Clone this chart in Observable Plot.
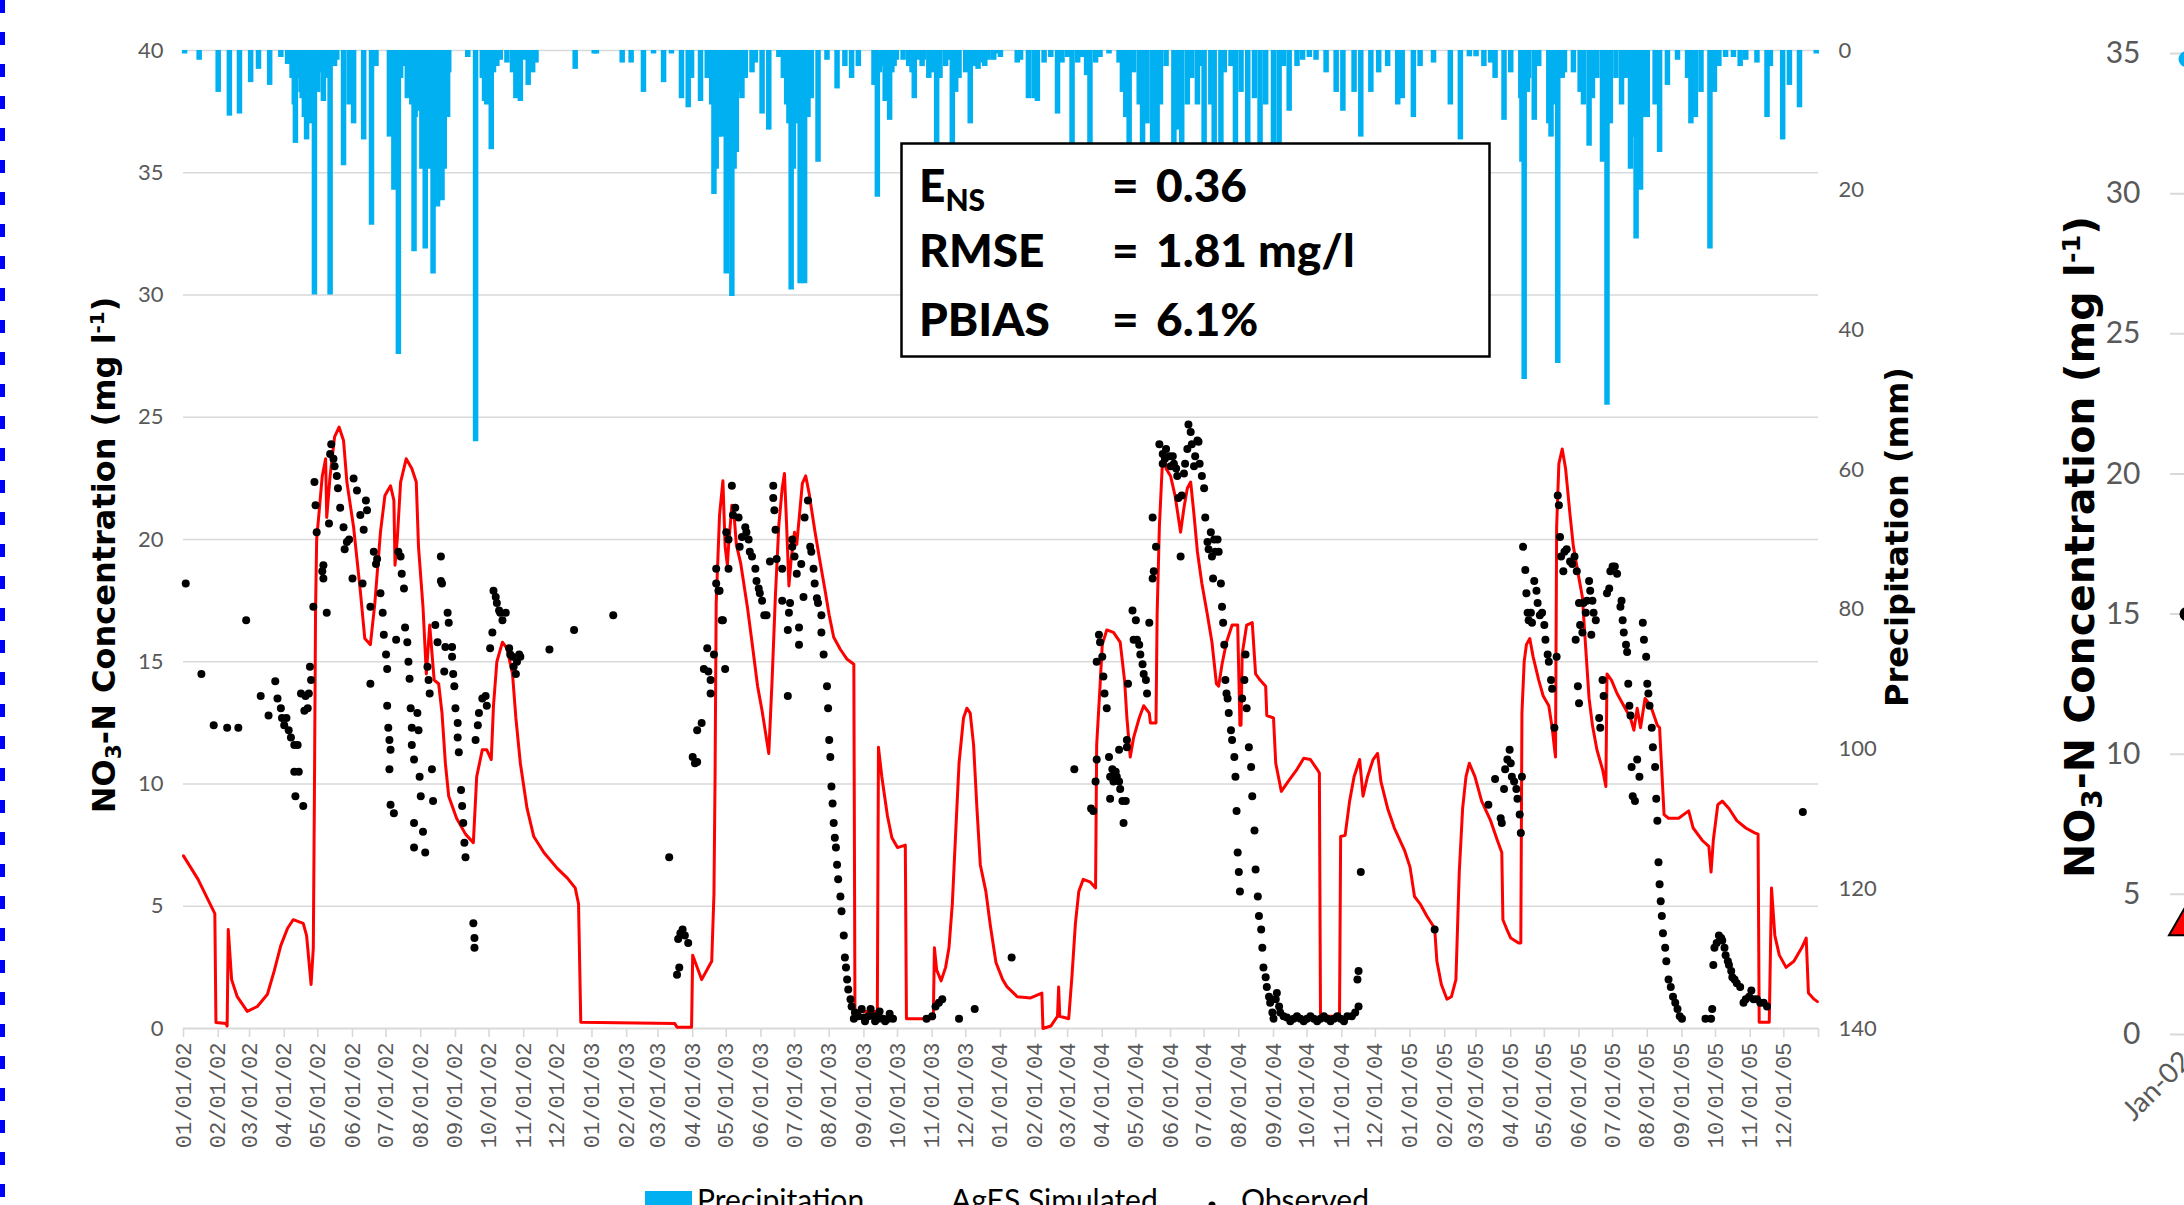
<!DOCTYPE html>
<html>
<head>
<meta charset="utf-8">
<script src="https://cdn.jsdelivr.net/npm/d3@7"></script>
<script src="https://cdn.jsdelivr.net/npm/@observablehq/plot@0.6"></script>
<style>
html, body { margin: 0; padding: 0; width: 2184px; height: 1205px; overflow: hidden; background: #fff; }
#wrap { position: relative; width: 2184px; height: 1205px; overflow: hidden; }
.layer { position: absolute; left: 0; top: 0; }
.vtitle { position: absolute; white-space: nowrap; font-family: "DejaVu Sans", sans-serif; font-weight: bold; color: #000; transform: translate(-50%, -50%) rotate(-90deg); }
.vtitle .sub { font-size: 68%; position: relative; top: 0.28em; }
.vtitle .sup { font-size: 62%; position: relative; top: -0.55em; }
.leg { position: absolute; font-family: Lato, sans-serif; font-size: 30px; color: #000; white-space: nowrap; }
</style>
</head>
<body>
<div id="wrap"></div>
<script>
// ---------------- DATA ----------------
const concTicks = [0, 5, 10, 15, 20, 25, 30, 35, 40];
const precipTicks = [0, 20, 40, 60, 80, 100, 120, 140];
const xStart = "2002-01-01";
const xEnd = "2006-01-01";
const xTickFormat = "%m/%d/%y";

const seriesNames = ["Precipitation", "AgES Simulated", "Observed"];
const statLabels = ["E", "RMSE", "PBIAS"];
const statValues = ["0.36", "1.81 mg/l", "6.1%"];

// AgES simulated NO3-N (mg/l) — vertices
const simulated = [
["2002-01-01",7.06],["2002-01-14",6.1],["2002-01-29",4.7],["2002-01-30",0.25],["2002-02-08",0.2],["2002-02-09",0.1],["2002-02-10",4.05],["2002-02-13",2.0],["2002-02-18",1.3],["2002-02-27",0.7],["2002-03-08",0.9],["2002-03-17",1.4],["2002-03-23",2.35],["2002-03-29",3.4],["2002-04-04",4.1],["2002-04-09",4.45],["2002-04-18",4.3],["2002-04-21",3.8],["2002-04-25",1.8],["2002-04-27",3.3],["2002-04-28",9.7],["2002-04-29",17.1],["2002-04-30",20.0],["2002-05-05",22.6],["2002-05-08",23.3],["2002-05-09",20.9],["2002-05-12",22.6],["2002-05-16",24.2],["2002-05-20",24.6],["2002-05-24",24.05],["2002-05-27",22.35],["2002-06-02",20.5],["2002-06-08",17.9],["2002-06-12",15.95],["2002-06-17",15.7],["2002-06-21",17.4],["2002-06-26",20.3],["2002-06-30",21.8],["2002-07-05",22.2],["2002-07-08",21.6],["2002-07-09",18.95],["2002-07-11",20.0],["2002-07-14",22.35],["2002-07-19",23.3],["2002-07-24",22.9],["2002-07-28",22.35],["2002-07-30",19.7],["2002-08-03",17.25],["2002-08-06",14.5],["2002-08-09",16.5],["2002-08-13",14.25],["2002-08-17",14.1],["2002-08-20",12.9],["2002-08-23",10.85],["2002-08-26",9.5],["2002-09-02",8.6],["2002-09-10",7.95],["2002-09-17",7.6],["2002-09-20",10.3],["2002-09-25",11.4],["2002-09-29",11.4],["2002-10-03",11.0],["2002-10-05",13.2],["2002-10-08",15.0],["2002-10-13",15.8],["2002-10-17",15.55],["2002-10-22",14.5],["2002-10-25",12.7],["2002-10-29",10.85],["2002-11-04",9.0],["2002-11-10",7.85],["2002-11-19",7.2],["2002-12-01",6.55],["2002-12-10",6.15],["2002-12-17",5.75],["2002-12-20",5.1],["2002-12-22",0.26],
["2003-03-16",0.2],["2003-03-18",0.05],["2003-03-31",0.05],["2003-04-01",3.0],["2003-04-09",2.0],["2003-04-18",2.75],["2003-04-20",5.5],["2003-04-21",10.3],["2003-04-22",17.4],["2003-04-25",21.0],["2003-04-28",22.4],["2003-04-30",19.7],["2003-05-02",18.95],["2003-05-03",19.7],["2003-05-06",21.4],["2003-05-08",21.0],["2003-05-10",19.8],["2003-05-14",19.0],["2003-05-20",17.2],["2003-05-24",15.8],["2003-05-29",14.0],["2003-06-02",13.0],["2003-06-08",11.25],["2003-06-11",14.3],["2003-06-14",17.8],["2003-06-17",20.6],["2003-06-20",22.1],["2003-06-22",22.7],["2003-06-24",20.5],["2003-06-26",18.1],["2003-06-28",19.2],["2003-07-01",20.3],["2003-07-03",19.8],["2003-07-05",20.8],["2003-07-08",22.3],["2003-07-11",22.6],["2003-07-14",21.9],["2003-07-19",20.4],["2003-07-23",19.3],["2003-07-28",18.0],["2003-08-01",16.9],["2003-08-05",16.0],["2003-08-11",15.5],["2003-08-17",15.1],["2003-08-23",14.9],["2003-08-24",0.7],["2003-09-13",0.7],["2003-09-14",11.5],["2003-09-17",10.3],["2003-09-22",8.7],["2003-09-26",7.8],["2003-10-01",7.4],["2003-10-08",7.5],["2003-10-09",0.4],["2003-11-02",0.4],["2003-11-03",3.3],["2003-11-05",2.4],["2003-11-09",1.95],["2003-11-13",2.5],["2003-11-16",3.3],["2003-11-19",5.1],["2003-11-22",8.0],["2003-11-25",10.85],["2003-11-29",12.7],["2003-12-02",13.1],["2003-12-05",12.9],["2003-12-08",11.6],["2003-12-11",9.0],["2003-12-14",6.7],["2003-12-19",5.6],["2003-12-23",4.2],["2003-12-28",2.7],
["2004-01-03",2.0],["2004-01-07",1.7],["2004-01-16",1.3],["2004-01-28",1.25],["2004-02-07",1.45],["2004-02-08",0.0],["2004-02-15",0.1],["2004-02-21",0.5],["2004-02-22",1.7],["2004-02-23",0.5],["2004-03-02",0.4],["2004-03-05",2.2],["2004-03-08",4.3],["2004-03-11",5.6],["2004-03-15",6.1],["2004-03-21",6.0],["2004-03-26",5.75],["2004-03-27",11.6],["2004-03-30",14.0],["2004-04-01",15.7],["2004-04-05",16.3],["2004-04-11",16.2],["2004-04-17",15.8],["2004-04-21",14.2],["2004-04-23",12.7],["2004-04-26",11.1],["2004-04-29",11.9],["2004-05-04",12.7],["2004-05-08",13.2],["2004-05-13",12.9],["2004-05-14",12.5],["2004-05-19",12.5],["2004-05-20",16.9],["2004-05-22",20.5],["2004-05-25",23.4],["2004-05-26",23.7],["2004-05-28",22.9],["2004-06-01",22.6],["2004-06-05",21.8],["2004-06-10",20.3],["2004-06-13",21.3],["2004-06-16",22.1],["2004-06-19",22.35],["2004-06-22",21.0],["2004-06-25",19.5],["2004-06-29",18.2],["2004-07-04",16.9],["2004-07-08",15.8],["2004-07-12",14.1],["2004-07-14",14.0],["2004-07-17",14.9],["2004-07-21",15.8],["2004-07-26",16.5],["2004-07-31",16.5],["2004-08-02",12.4],["2004-08-03",12.4],["2004-08-04",15.3],["2004-08-08",16.5],["2004-08-13",16.6],["2004-08-16",14.5],["2004-08-20",14.25],["2004-08-25",14.0],["2004-08-26",12.8],["2004-09-01",12.7],["2004-09-03",10.85],["2004-09-08",9.7],["2004-09-14",10.1],["2004-09-22",10.6],["2004-09-28",11.05],["2004-10-04",11.0],["2004-10-10",10.6],["2004-10-12",10.45],["2004-10-13",0.5],["2004-10-30",0.5],["2004-10-31",7.85],["2004-11-04",7.9],["2004-11-08",9.3],["2004-11-12",10.3],["2004-11-17",11.0],["2004-11-20",9.5],["2004-11-24",10.3],["2004-11-29",11.0],["2004-12-03",11.25],["2004-12-06",10.1],["2004-12-12",9.0],["2004-12-18",8.2],["2004-12-27",7.3],
["2005-01-01",6.6],["2005-01-05",5.4],["2005-01-10",5.1],["2005-01-16",4.6],["2005-01-23",4.1],["2005-01-25",2.75],["2005-01-29",1.8],["2005-02-03",1.2],["2005-02-07",1.3],["2005-02-11",2.0],["2005-02-14",6.4],["2005-02-17",9.0],["2005-02-20",10.3],["2005-02-23",10.85],["2005-02-28",10.3],["2005-03-06",9.3],["2005-03-14",8.5],["2005-03-20",7.7],["2005-03-24",7.2],["2005-03-25",4.45],["2005-03-29",4.0],["2005-04-01",3.7],["2005-04-08",3.5],["2005-04-10",3.5],["2005-04-11",12.9],["2005-04-13",15.0],["2005-04-15",15.7],["2005-04-18",15.95],["2005-04-21",15.2],["2005-04-26",14.25],["2005-04-30",13.6],["2005-05-05",13.2],["2005-05-08",12.3],["2005-05-11",11.1],["2005-05-12",20.5],["2005-05-14",23.1],["2005-05-17",23.7],["2005-05-20",22.9],["2005-05-24",21.0],["2005-05-27",19.7],["2005-06-01",18.4],["2005-06-04",17.65],["2005-06-07",15.55],["2005-06-10",13.5],["2005-06-13",12.4],["2005-06-17",11.4],["2005-06-22",10.6],["2005-06-25",9.9],["2005-06-26",14.5],["2005-06-30",14.25],["2005-07-05",13.7],["2005-07-11",13.2],["2005-07-17",12.7],["2005-07-20",12.2],["2005-07-23",13.1],["2005-07-26",12.3],["2005-07-30",13.5],["2005-08-04",13.2],["2005-08-10",12.4],["2005-08-12",12.3],["2005-08-16",8.75],["2005-08-20",8.6],["2005-08-29",8.6],["2005-09-07",8.9],["2005-09-11",8.2],["2005-09-19",7.7],["2005-09-25",7.45],["2005-09-27",6.4],["2005-09-29",7.7],["2005-10-03",9.15],["2005-10-07",9.3],["2005-10-13",9.0],["2005-10-20",8.5],["2005-10-28",8.2],["2005-11-05",8.0],["2005-11-08",7.95],["2005-11-09",0.26],["2005-11-18",0.26],["2005-11-20",5.75],["2005-11-23",3.8],["2005-11-27",3.0],["2005-12-03",2.5],["2005-12-10",2.75],["2005-12-17",3.3],["2005-12-21",3.7],["2005-12-23",1.45],["2005-12-28",1.2],["2005-12-31",1.1]
];

// Observed NO3-N (mg/l): [day of year, value] per year
const obs2002 = [[3,18.2],[17,14.5],[28,12.4],[40,12.3],[50,12.3],[57,16.7],[70,13.6],[77,12.8],[83,14.2],[85,13.5],[88,13.1],[89,12.7],[91,12.4],[93,12.7],[95,12.2],[97,11.9],[100,11.6],[103,11.6],[100,10.5],[104,10.5],[101,9.5],[108,9.1],[106,13.7],[109,13.0],[110,13.6],[112,13.1],[113,13.7],[115,14.25],[114,14.8],[117,17.25],[118,22.35],[119,21.4],[120,20.3],[125,18.7],[126,18.4],[126,18.95],[129,17.0],[131,20.65],[132,23.5],[133,23.9],[135,23.3],[136,23.0],[138,22.6],[139,22.1],[141,21.3],[144,20.5],[145,19.6],[147,19.9],[149,20.0],[152,18.4],[153,22.5],[156,22.0],[159,21.0],[162,20.4],[161,18.2],[164,21.6],[165,21.2],[168,14.1],[168,17.25],[171,19.5],[173,19.0],[174,19.2],[177,17.8],[179,17.0],[180,16.1],[182,15.3],[183,14.7],[183,13.2],[184,12.3],[185,11.8],[186,11.4],[185,10.6],[186,9.15],[189,8.8],[191,15.9],[193,19.5],[195,19.3],[196,18.6],[198,18.0],[199,16.4],[201,15.8],[202,15.0],[203,14.3],[204,13.1],[205,12.3],[205,11.6],[207,11.0],[207,8.4],[207,7.4],[210,12.9],[211,12.2],[212,10.3],[213,9.5],[215,8.05],[217,7.2],[219,14.8],[220,14.25],[221,13.7],[223,10.6],[224,9.3],[226,16.5],[228,15.8],[231,19.3],[231,18.3],[232,18.2],[234,14.6],[235,15.6],[237,17.0],[238,16.6],[241,15.6],[241,15.2],[242,14.5],[243,14.0],[244,13.1],[246,12.5],[246,11.9],[247,11.3],[249,9.75],[250,9.1],[251,8.4],[252,7.6],[253,7.0],[260,4.3],[261,3.7],[261,3.3],[262,11.8],[264,12.4],[265,12.9],[268,13.5],[271,13.6],[272,13.2],[275,15.55],[277,16.2],[278,17.9],[280,17.65],[281,17.4],[283,17.1],[284,17.0],[286,16.7],[289,17.0],[292,15.55],[293,15.3],[295,15.2],[296,14.8],[298,14.5],[299,15.0],[301,15.3],[302,15.2],[328,15.5],[350,16.3]];
const obs2003 = [[20,16.9],[70,7.0],[77,2.2],[78,3.66],[79,2.5],[80,3.9],[82,4.05],[84,3.8],[87,3.5],[91,11.1],[93,10.85],[95,10.9],[95,12.2],[99,12.5],[101,14.7],[104,15.55],[105,14.6],[107,14.25],[107,13.7],[110,15.3],[112,18.2],[112,18.8],[114,17.9],[115,17.9],[117,16.7],[118,16.7],[120,14.7],[121,20.3],[123,20.0],[123,18.8],[126,22.2],[127,21.0],[129,21.3],[132,20.9],[133,19.7],[135,20.1],[138,20.5],[139,20.3],[141,20.0],[142,19.5],[144,19.3],[147,18.8],[148,18.3],[150,18.0],[151,17.8],[153,17.5],[155,16.9],[157,16.9],[160,19.1],[163,22.2],[163,21.7],[164,21.2],[165,20.4],[166,19.2],[171,18.8],[171,17.5],[176,13.6],[176,16.3],[177,17.0],[178,17.4],[180,19.7],[180,20.0],[182,19.3],[184,18.6],[186,16.4],[186,15.7],[188,19.0],[190,17.65],[191,20.9],[194,21.6],[196,19.7],[197,19.5],[199,18.8],[200,18.2],[202,17.6],[203,17.4],[206,16.9],[206,16.2],[208,15.3],[211,14.0],[212,13.1],[213,11.8],[214,11.1],[215,9.9],[216,9.2],[217,8.4],[218,7.8],[219,7.4],[220,6.7],[221,6.1],[223,5.4],[224,4.8],[226,3.8],[227,2.9],[228,2.5],[229,2.0],[230,1.6],[232,1.2],[233,0.9],[235,0.4],[236,0.65],[239,0.5],[242,0.8],[244,0.45],[245,0.3],[248,0.5],[250,0.8],[253,0.5],[254,0.3],[257,0.4],[258,0.7],[261,0.4],[263,0.3],[266,0.4],[267,0.6],[270,0.4],[300,0.4],[305,0.5],[308,0.9],[311,1.05],[314,1.2],[329,0.4],[343,0.8]];
const obs2004 = [[11,2.9],[67,10.6],[82,9.0],[84,8.9],[86,10.1],[87,11.0],[87,15.0],[89,16.1],[90,15.8],[92,15.2],[93,14.4],[94,13.7],[96,13.1],[98,11.1],[99,10.3],[99,9.4],[101,10.6],[102,10.1],[104,10.5],[105,10.3],[107,10.1],[107,11.4],[108,9.8],[110,9.3],[111,8.4],[113,9.3],[114,11.8],[114,11.5],[115,14.1],[119,17.1],[120,15.9],[122,16.7],[123,15.9],[125,15.7],[126,15.3],[128,14.9],[129,14.5],[131,14.25],[132,13.7],[134,16.6],[137,18.4],[137,20.9],[138,18.7],[140,19.7],[143,23.9],[146,23.1],[146,23.5],[148,23.3],[149,23.7],[152,23.4],[153,23.0],[155,23.4],[156,23.1],[158,22.9],[159,22.6],[160,21.7],[162,19.3],[163,21.8],[165,22.7],[166,23.1],[168,23.7],[169,24.7],[171,24.4],[172,23.9],[174,23.0],[175,23.4],[177,24.05],[178,24.0],[179,23.1],[181,22.6],[183,22.1],[184,20.9],[186,19.9],[187,19.6],[189,20.3],[190,19.3],[191,18.4],[192,20.0],[193,19.5],[195,20.0],[196,19.5],[198,18.2],[199,17.25],[200,16.6],[201,15.7],[202,14.25],[203,13.7],[204,13.5],[205,12.9],[207,12.2],[208,11.8],[210,11.1],[211,10.3],[212,8.9],[213,7.2],[214,6.4],[215,5.6],[217,13.5],[219,14.25],[220,15.3],[221,13.1],[223,11.5],[225,10.7],[226,9.5],[228,8.1],[229,6.5],[231,5.4],[232,4.6],[234,4.05],[235,3.3],[236,2.5],[238,2.1],[239,1.7],[241,1.3],[242,1.05],[244,0.65],[245,0.4],[247,1.2],[248,1.45],[250,0.9],[251,0.65],[254,0.5],[257,0.45],[260,0.3],[263,0.4],[266,0.5],[269,0.4],[272,0.3],[275,0.4],[278,0.5],[281,0.4],[284,0.3],[287,0.4],[290,0.5],[293,0.4],[296,0.3],[299,0.4],[302,0.5],[305,0.4],[308,0.3],[311,0.5],[315,0.5],[318,0.65],[320,2.0],[321,0.9],[321,2.35],[323,6.4]];
const obs2005 = [[23,4.05],[71,9.15],[77,10.2],[82,8.6],[83,8.4],[85,9.8],[86,10.6],[88,11.0],[90,11.4],[91,10.85],[92,10.3],[94,10.1],[96,9.8],[97,9.4],[99,8.75],[100,8.0],[101,10.3],[102,19.7],[104,18.75],[105,17.8],[106,17.0],[107,16.7],[109,17.0],[110,16.6],[112,18.3],[114,17.9],[115,17.4],[117,16.9],[119,17.0],[121,16.5],[122,15.9],[124,15.3],[125,15.0],[127,14.25],[128,13.9],[130,12.3],[132,15.2],[133,21.8],[134,21.4],[135,20.1],[136,19.3],[138,18.7],[139,19.5],[141,19.6],[144,19.1],[146,19.0],[148,19.3],[149,15.9],[150,18.7],[151,14.0],[152,13.3],[152,17.4],[153,16.5],[155,16.2],[156,17.4],[158,17.0],[159,17.5],[161,18.3],[162,17.9],[163,16.1],[164,17.5],[165,17.0],[167,16.7],[170,12.7],[171,12.3],[173,14.25],[174,13.6],[177,17.8],[179,18.0],[180,18.7],[182,18.9],[184,18.9],[186,18.6],[189,17.25],[190,17.5],[191,16.7],[192,16.2],[194,15.7],[195,15.4],[196,14.1],[197,13.2],[198,12.8],[199,10.7],[200,9.5],[202,9.3],[204,11.0],[206,10.3],[209,16.6],[210,15.9],[212,15.2],[213,14.1],[214,13.7],[215,13.2],[217,12.3],[218,11.5],[220,10.7],[221,9.4],[222,8.5],[223,6.8],[224,5.9],[225,5.2],[226,4.6],[227,3.9],[229,3.3],[230,2.75],[232,2.0],[234,1.7],[236,1.3],[238,1.05],[240,0.8],[242,0.5],[244,0.4],[265,0.4],[270,0.4],[271,0.8],[272,2.6],[273,3.3],[275,3.5],[277,3.8],[279,3.7],[280,3.6],[282,3.3],[283,3.0],[285,2.75],[286,2.6],[288,2.35],[289,2.1],[291,2.0],[293,1.85],[296,1.7],[299,1.05],[301,1.2],[304,1.3],[306,1.55],[308,1.2],[311,1.2],[314,1.05],[317,1.05],[320,0.9],[352,8.85]];

// Daily precipitation (mm): [day of year, mm] per year
const precip2002 = [[2,0.5],[15,1.4],[32,6],[42,9.4],[51,9.1],[61,4.6],[68,2.7],[78,5],[88,1],[94,2],[98,4],[100,7.8],[101,13.3],[104,4],[106,6],[107,6.9],[109,9.6],[111,12.8],[113,7.8],[115,10.5],[118,35],[119,4],[121,6],[123,3.2],[126,7.3],[129,4],[132,35],[134,2.3],[136,2.3],[138,1.4],[144,16.5],[149,7.8],[153,10.5],[162,12.8],[169,25],[173,2.3],[185,12.4],[186,6.9],[188,9.6],[189,20],[191,15],[193,43.5],[195,4],[198,2.3],[201,6.9],[204,6],[205,7.8],[207,28.8],[208,9.6],[211,8.7],[213,6.9],[214,17],[217,28.4],[219,10.5],[220,17],[222,6.9],[224,32],[225,18.7],[228,22.4],[229,15],[232,21.5],[234,17],[235,7.8],[237,9.6],[238,3.2],[255,1],[262,56],[268,4],[270,7.3],[272,7.8],[276,14.2],[278,3.2],[281,2.3],[284,1.4],[290,1.8],[295,3.2],[298,6.9],[299,2.3],[302,7.3],[305,1.4],[309,5],[313,3.2],[316,1.8],[351,2.7]];
const precip2003 = [[3,0.5],[5,0.5],[28,1.8],[36,1.8],[47,6],[56,0.5],[65,4.6],[72,0.5],[81,6.9],[87,8.2],[90,4],[98,7.3],[104,4],[107,4],[108,7.8],[110,20.6],[112,17],[114,12.4],[117,12.4],[118,7.8],[120,10.5],[121,32],[123,21.5],[126,35.2],[128,17],[130,14.6],[133,6],[135,6.9],[138,4],[144,3.2],[147,1.8],[153,9.1],[159,11.4],[168,1],[172,4],[175,7.8],[177,10.5],[179,34.3],[181,17],[183,9.6],[184,10.5],[187,33.4],[189,17],[191,33.4],[194,9.6],[196,4],[197,6.9],[203,16],[211,1.4],[220,5.5],[227,2.3],[233,4],[239,2.3],[253,5],[254,4],[256,21],[258,3.2],[260,2.3],[263,7.3],[267,10],[269,3.2],[271,2.3],[273,1.4],[279,1.4],[284,2.3],[287,3.2],[289,6.9],[293,1.4],[296,2.3],[297,1.4],[302,4],[305,3.2],[309,17],[312,4],[317,2.3],[320,1.4],[323,15],[326,6],[329,4],[335,3.2],[339,10.5],[343,2.3],[346,2.7],[349,1.8],[352,2.3],[355,1.4],[360,1.4],[363,0.5]];
const precip2004 = [[1,1],[16,1.8],[19,1.4],[26,6.9],[31,6.9],[34,7.3],[40,1.8],[46,1],[52,9.1],[56,1.8],[61,1],[65,20],[70,1.8],[74,1],[78,3.6],[81,18],[86,1.8],[90,1],[98,0.5],[107,1.8],[110,6],[113,9.6],[116,15],[120,3.2],[125,7.8],[128,20],[132,10.5],[137,16],[141,25],[144,7.8],[149,2.3],[156,20],[159,11.4],[163,18],[168,7.8],[172,4],[177,7.8],[181,2.3],[183,15],[189,7.8],[192,22],[198,17],[201,3.2],[207,2.3],[211,16],[216,6],[222,20],[228,6.9],[233,14],[238,7.8],[245,15],[250,15],[254,2.3],[259,8.7],[266,2.3],[271,1.4],[277,1],[283,1.4],[292,3.2],[301,6],[307,8.7],[317,6],[323,12.4],[332,6],[339,3.2],[347,2.3],[356,7.8],[360,6.9]];
const precip2005 = [[4,9.6],[10,2.3],[22,1.8],[37,7.8],[46,12.8],[54,0.9],[60,0.9],[67,2.3],[73,1.8],[77,4],[85,10],[91,3.2],[100,6.9],[101,16],[103,47.1],[106,6],[107,4],[112,10],[116,2.3],[125,10.5],[127,12.4],[130,7.8],[131,6],[133,44.8],[137,4],[139,3.2],[147,3.2],[153,6],[156,7.8],[161,13.7],[164,6.9],[168,4],[173,16],[176,10.5],[177,50.8],[180,10.5],[185,4],[190,7.8],[194,4],[198,17],[201,12.4],[203,27],[207,20],[210,9.6],[213,9.6],[220,7.8],[224,14.6],[231,5],[240,1.4],[249,4],[252,10.5],[256,9.6],[261,6],[269,28.4],[273,6],[277,2.3],[283,1],[290,1],[296,2.3],[301,1.4],[311,1.8],[320,9.6],[323,2.3],[334,12.8],[340,5],[349,8.2],[364,0.5]];

// Partially visible neighbouring chart on the right edge
const rightTicks = [0, 5, 10, 15, 20, 25, 30, 35];
const rightCategories = ["Jan-02"];
const rightBlueSeries = [34.8];
const rightObservedSeries = [15.0];
const rightSimulatedSeries = [3.9];

// ---------------- BUILD ----------------
const parseDate = d3.utcParse("%Y-%m-%d");
const fromDoy = (y, d) => new Date(Date.UTC(y, 0, d));
const x0 = parseDate(xStart), x1 = parseDate(xEnd);
const monthTicks = d3.utcMonth.range(x0, x1);
const simData = simulated.map(([d, v]) => ({date: parseDate(d), value: v}));
const obsData = [[2002, obs2002], [2003, obs2003], [2004, obs2004], [2005, obs2005]]
  .flatMap(([y, arr]) => arr.map(([d, v]) => ({date: fromDoy(y, d), value: v})));
const precipData = [[2002, precip2002], [2003, precip2003], [2004, precip2004], [2005, precip2005]]
  .flatMap(([y, arr]) => arr.map(([d, v]) => ({date: fromDoy(y, d), mm: v})));

const wrap = document.getElementById("wrap");
const W = 2000, H = 1205;
const frame = {width: W, height: H, marginTop: 50, marginBottom: 177, marginLeft: 183, marginRight: 182};
const baseStyle = {background: "transparent", overflow: "visible", fontFamily: "Lato, sans-serif"};
function add(el, left = 0, top = 0) {
  el.classList.add("layer");
  el.style.left = left + "px"; el.style.top = top + "px";
  el.style.maxWidth = "none";
  wrap.appendChild(el);
  return el;
}
const GRID = "#d9d9d9", TXT = "#595959";

// Layer A: grid + left axis + time axis
add(Plot.plot({
  ...frame, style: baseStyle,
  x: {type: "utc", domain: [x0, x1], label: null},
  y: {domain: [0, 40], label: null},
  marks: [
    Plot.ruleY(concTicks.filter(v => v > 0), {stroke: GRID, strokeWidth: 1.6}),
    Plot.ruleY([0], {stroke: GRID, strokeWidth: 2}),
    Plot.axisY({ticks: concTicks, tickSize: 0, tickPadding: 20, fill: TXT, fontSize: 22, fontFamily: "Lato", label: null}),
    Plot.axisX({ticks: monthTicks.concat([x1]), tickSize: 9, stroke: GRID, strokeWidth: 1.6, tickFormat: () => "", label: null}),
    Plot.axisX({ticks: monthTicks, tickSize: 0, tickPadding: 14, tickRotate: -90, tickFormat: d3.utcFormat(xTickFormat),
      fill: TXT, fontSize: 22, fontFamily: "Liberation Mono", label: null})
  ]
}));

// Layer B: precipitation bars hanging from the top, right axis
add(Plot.plot({
  ...frame, style: baseStyle,
  x: {type: "utc", domain: [x0, x1], axis: null},
  y: {domain: [0, 140], reverse: true, label: null},
  marks: [
    Plot.ruleX(precipData, {x: "date", y1: 0, y2: "mm", stroke: "#00B0F0", strokeWidth: 5.5}),
    Plot.axisY({anchor: "right", ticks: precipTicks, tickSize: 0, tickPadding: 20, fill: TXT, fontSize: 22, fontFamily: "Lato", label: null})
  ]
}));

// Layer C: simulated line + observed dots
add(Plot.plot({
  ...frame, style: baseStyle,
  x: {type: "utc", domain: [x0, x1], axis: null},
  y: {domain: [0, 40], axis: null},
  marks: [
    Plot.line(simData, {x: "date", y: "value", stroke: "#ff0000", strokeWidth: 3, curve: "linear"}),
    Plot.dot(obsData, {x: "date", y: "value", r: 4, fill: "#000", stroke: "none"})
  ]
}));

// Right-edge neighbouring chart
add(Plot.plot({
  width: 800, height: H, marginTop: 53, marginBottom: 171, marginLeft: 180, marginRight: 20,
  style: {...baseStyle},
  x: {type: "band", domain: rightCategories, range: [176, 216], label: null},
  y: {domain: [0, 35], label: null},
  marks: [
    Plot.ruleY(rightTicks.filter(v => v > 0), {stroke: GRID, strokeWidth: 2}),
    Plot.ruleY([0], {stroke: GRID, strokeWidth: 2}),
    Plot.axisY({ticks: rightTicks, tickSize: 0, tickPadding: 30, fill: TXT, fontSize: 30, fontFamily: "Lato", label: null}),
    Plot.axisX({tickSize: 0, tickPadding: 22, tickRotate: -45, fill: TXT, fontSize: 28, fontFamily: "Lato", label: null}),
    Plot.dot(rightCategories.map((c, i) => ({c, v: rightBlueSeries[i]})), {x: "c", y: "v", r: 8, fill: "#00B0F0"}),
    Plot.dot(rightCategories.map((c, i) => ({c, v: rightObservedSeries[i]})), {x: "c", y: "v", r: 7, fill: "#000"}),
    Plot.dot(rightCategories.map((c, i) => ({c, v: rightSimulatedSeries[i]})), {x: "c", y: "v", symbol: "triangle", r: 13, fill: "#ff0000", stroke: "#000", strokeWidth: 2})
  ]
}), 1990, 0);

// Stats box
const ns = "http://www.w3.org/2000/svg";
const box = document.createElementNS(ns, "svg");
box.setAttribute("width", 591); box.setAttribute("height", 216);
box.setAttribute("class", "layer");
box.style.left = "900px"; box.style.top = "142px";
box.innerHTML = `<rect x="1.5" y="1.5" width="588" height="213" fill="#fff" stroke="#000" stroke-width="2.5"/>`;
const rowsY = [60, 125, 194];
const sfont = 'font-family="Lato, sans-serif" font-weight="900" font-size="46"';
statLabels.forEach((lab, i) => {
  const sub = i === 0 ? `<tspan font-size="30" dy="9">NS</tspan>` : "";
  box.innerHTML += `<text x="19" y="${rowsY[i]}" ${sfont}>${lab}${sub}</text>`;
  box.innerHTML += `<text x="212" y="${rowsY[i]}" ${sfont}>=</text>`;
  box.innerHTML += `<text x="256" y="${rowsY[i]}" ${sfont}>${statValues[i]}</text>`;
});
wrap.appendChild(box);

// Axis titles
function vtitle(html, cx, cy, size) {
  const d = document.createElement("div");
  d.className = "vtitle"; d.innerHTML = html;
  d.style.left = cx + "px"; d.style.top = cy + "px"; d.style.fontSize = size + "px";
  wrap.appendChild(d);
}
vtitle('NO<span class="sub">3</span>-N Concentration (mg l<span class="sup">-1</span>)', 104, 555, 32);
vtitle('Precipitation (mm)', 1897, 537, 32);
vtitle('NO<span class="sub">3</span>-N Concentration (mg l<span class="sup">-1</span>)', 2080, 547, 41);

// Legend (cut by the bottom edge, as in the reference)
const legSvg = document.createElementNS(ns, "svg");
legSvg.setAttribute("width", 2184); legSvg.setAttribute("height", 1205);
legSvg.setAttribute("class", "layer");
legSvg.innerHTML = `
  <rect x="645" y="1191" width="47" height="30" fill="#00B0F0"/>
  <line x1="893" y1="1214" x2="935" y2="1214" stroke="#ff0000" stroke-width="3"/>
  <circle cx="1212" cy="1205" r="3.5" fill="#000"/>
  <line x1="2.5" y1="0" x2="2.5" y2="1205" stroke="#0000ff" stroke-width="5" stroke-dasharray="13 19"/>`;
wrap.appendChild(legSvg);
const legX = [697, 951, 1241];
seriesNames.forEach((n, i) => {
  const d = document.createElement("div");
  d.className = "leg"; d.textContent = n;
  d.style.left = legX[i] + "px"; d.style.top = "1181px";
  wrap.appendChild(d);
});
</script>
</body>
</html>
